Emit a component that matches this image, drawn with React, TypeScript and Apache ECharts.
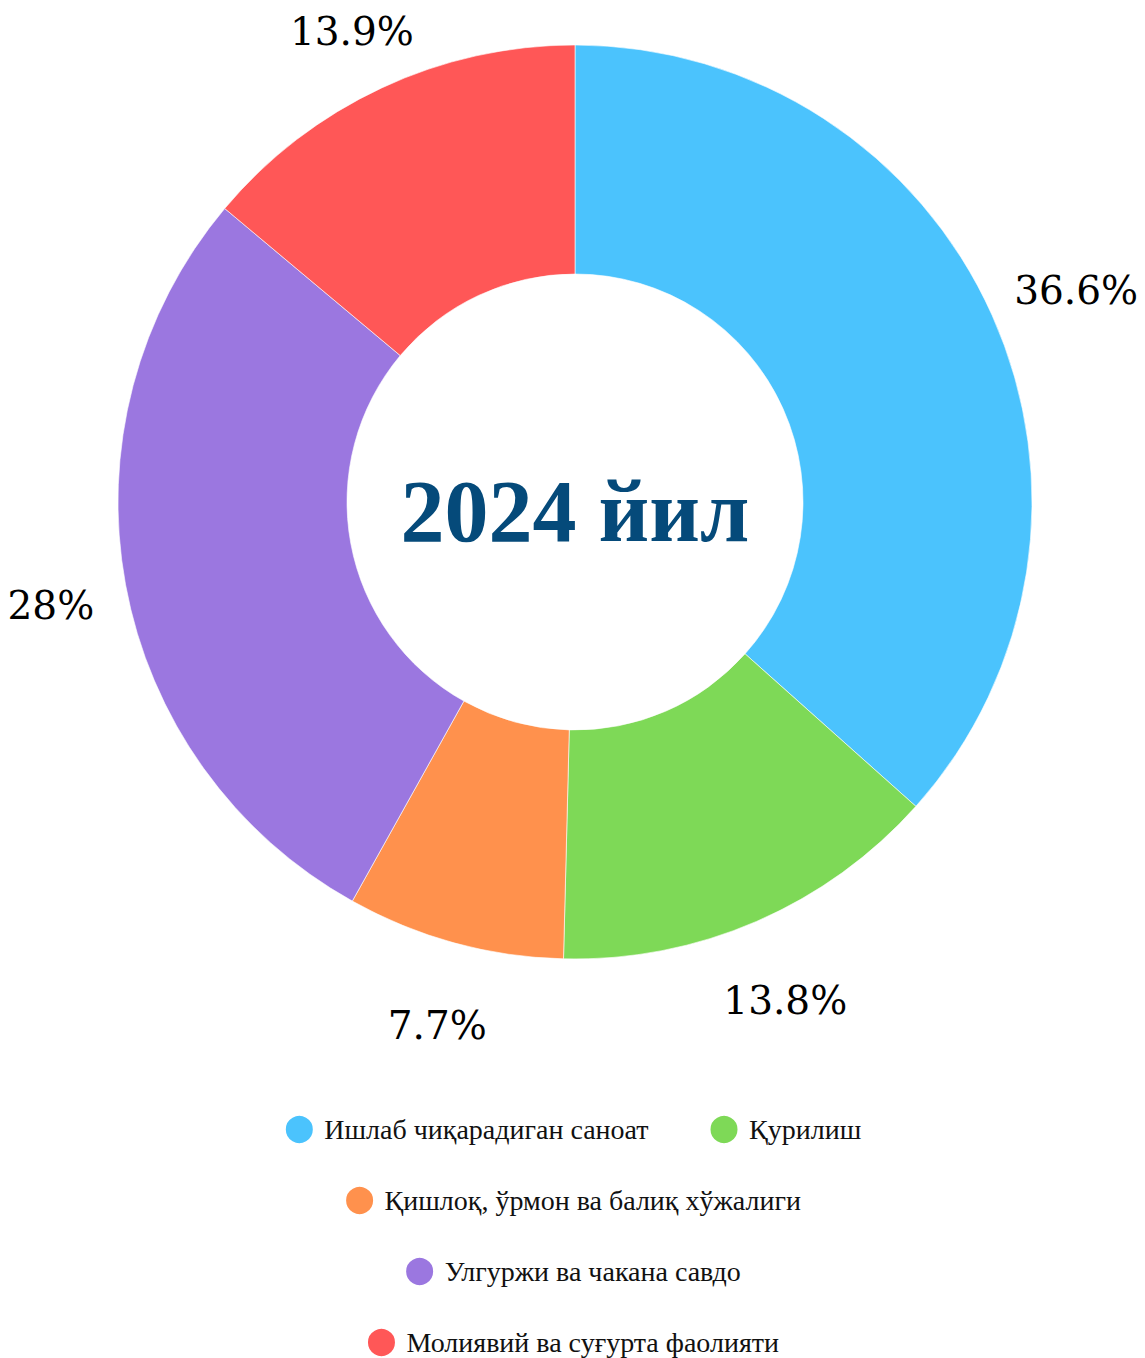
import React, { useEffect, useRef } from "react";
import * as echarts from "echarts";

const categories = [
  "Ишлаб чиқарадиган саноат",
  "Қурилиш",
  "Қишлоқ, ўрмон ва балиқ хўжалиги",
  "Улгуржи ва чакана савдо",
  "Молиявий ва суғурта фаолияти",
];
const shares = [36.6, 13.8, 7.7, 28, 13.9];
const colors = ["#4BC3FD", "#7ED957", "#FF914D", "#9B77E0", "#FF5757"];
const legendRows = [[0, 1], [2], [3], [4]];
const centerTitle = "2024 йил";

export default function App() {
  const ref = useRef<HTMLDivElement>(null);
  useEffect(() => {
    document.body.style.margin = "0";
    const chart = echarts.init(ref.current!, null, { renderer: "svg" });
    const data = categories.map((name, i) => ({
      name,
      value: shares[i],
      itemStyle: { color: colors[i] },
    }));
    const rowTops = [1114, 1185, 1256, 1327];
    chart.setOption({
      animation: false,
      legend: legendRows.map((row, r) => ({
        left: "center",
        top: rowTops[r],
        padding: 0,
        itemGap: 60,
        itemWidth: 40,
        itemHeight: 29,
        icon: "circle",
        selectedMode: false,
        textStyle: { fontFamily: "Liberation Serif", fontSize: 28, color: "#111" },
        data: row.map((i) => ({ name: categories[i], itemStyle: { color: colors[i] } })),
      })),
      graphic: [
        {
          type: "text",
          x: 575,
          y: 511,
          style: {
            text: centerTitle,
            fill: "#054A7A",
            font: "bold 88px 'Liberation Serif'",
            textAlign: "center",
            textVerticalAlign: "middle",
          },
        },
      ],
      series: [
        {
          type: "pie",
          center: [575, 502],
          radius: [228, 457],
          startAngle: 90,
          clockwise: true,
          silent: true,
          label: { show: false },
          labelLine: { show: false },
          itemStyle: { borderColor: "#fff", borderWidth: 0.6 },
          data,
        },
        {
          type: "pie",
          center: [579, 508],
          radius: [498, 570],
          startAngle: 90,
          clockwise: true,
          silent: true,
          itemStyle: { color: "rgba(0,0,0,0)", borderWidth: 0 },
          label: {
            show: true,
            position: "inside",
            formatter: "{c}%",
            fontFamily: "DejaVu Serif",
            fontSize: 39,
            color: "#000",
          },
          labelLine: { show: false },
          data: categories.map((name, i) => ({
            name,
            value: shares[i],
            label:
              i === 4
                ? { offset: [0, 10] }
                : i === 0
                ? { offset: [7, 2] }
                : i === 1
                ? { offset: [-7, 0] }
                : undefined,
          })),
        },
      ],
    });
    return () => chart.dispose();
  }, []);
  return <div ref={ref} style={{ width: 1145, height: 1358 }} />;
}
